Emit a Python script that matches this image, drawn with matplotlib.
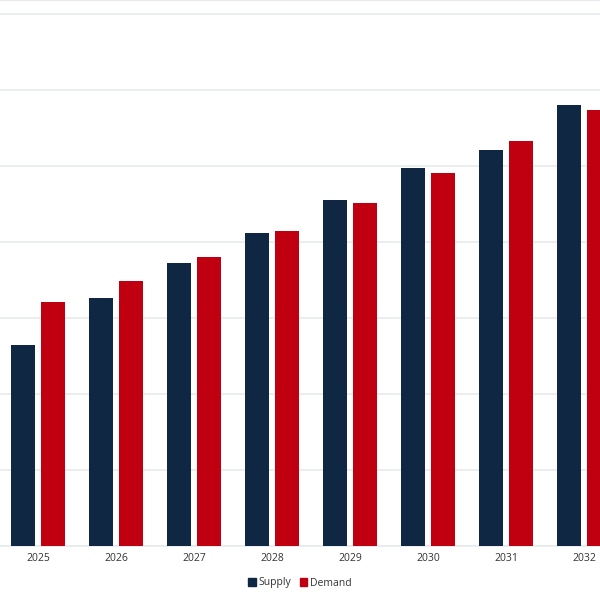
import numpy as np
import matplotlib
matplotlib.use("Agg")
import matplotlib.pyplot as plt
from matplotlib.patches import Patch

years = ['2025', '2026', '2027', '2028', '2029', '2030', '2031', '2032']
supply = [26.4, 32.6, 37.2, 41.1, 45.5, 49.7, 52.1, 58.0]
demand = [32.1, 34.9, 38.0, 41.4, 45.1, 49.1, 53.2, 57.4]

NAVY = '#0f2742'
RED = '#c00010'
GRID = '#e6e9ed'

plt.rcParams['font.family'] = ['Open Sans', 'DejaVu Sans']

fig = plt.figure(figsize=(6, 6), dpi=100)
ax = fig.add_axes([0, 54 / 600, 1, 546 / 600])

x = np.arange(len(years))
w = 0.308
off = 0.192
ax.bar(x - off, supply, width=w, color=NAVY, zorder=3)
ax.bar(x + off, demand, width=w, color=RED, zorder=3)

ax.set_xlim(-0.487, 7.205)
ax.set_ylim(0, 71.8)
ax.set_yticks(np.arange(0, 71, 10))
ax.yaxis.grid(True, color=GRID, linewidth=1.1, zorder=0)
ax.tick_params(axis='y', left=False, labelleft=False)
ax.set_xticks(x)
ax.set_xticklabels(years, fontsize=7.5, color='#333333')
ax.tick_params(axis='x', length=0, pad=5)

for s in ['left', 'right']:
    ax.spines[s].set_visible(False)
ax.spines['top'].set_color(GRID)
ax.spines['bottom'].set_color(GRID)
ax.spines['bottom'].set_linewidth(1.1)

handles = [Patch(color=NAVY, label='Supply'), Patch(color=RED, label='Demand')]
fig.legend(handles=handles, loc='center', bbox_to_anchor=(0.5, 1 - 583 / 600),
           ncol=2, frameon=False, fontsize=7.5, handlelength=0.7, handleheight=0.7,
           handletextpad=0.3, columnspacing=0.8, labelcolor='#333333')

fig.savefig('out.png', dpi=100)
